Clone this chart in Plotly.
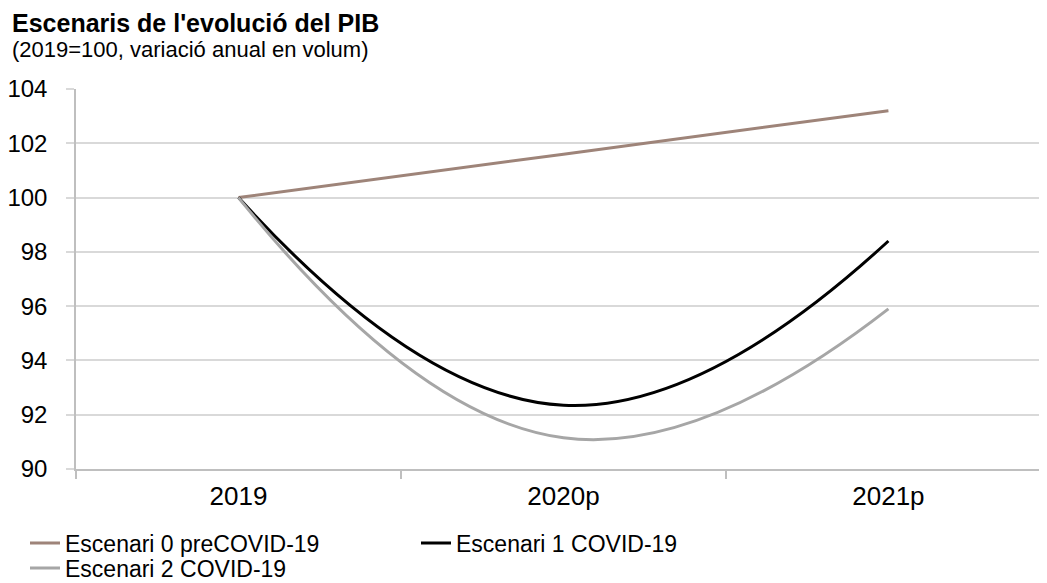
import plotly.graph_objects as go

categories = ["2019", "2020p", "2021p"]
escenari0 = [100, 101.6, 103.2]
escenari1 = [100, 92.35, 98.4]
escenari2 = [100, 91.15, 95.9]
names = ["Escenari 0 preCOVID-19", "Escenari 1 COVID-19", "Escenari 2 COVID-19"]
colors = ["#9E8479", "#000000", "#A6A6A6"]
yticks = [90, 92, 94, 96, 98, 100, 102, 104]

FONT = "Liberation Sans, Arial, sans-serif"

fig = go.Figure()
series = [escenari0, escenari1, escenari2]
legends = ["legend", "legend2", "legend3"]
for vals, nm, col, lg in zip(series, names, colors, legends):
    fig.add_trace(go.Scatter(
        x=categories, y=vals, name=nm, mode="lines",
        line=dict(color=col, width=3, shape="spline", smoothing=1.3),
        legend=lg, hoverinfo="x+y+name",
    ))

# page body has an 8px margin, so the figure is 8px smaller on each side
W, H = 1039, 575
L, T, B = 68, 81, 114
legfont = dict(family=FONT, size=23, color="#000000")

def leg(x, y):
    return dict(x=x, y=y, xref="container", yref="container",
                xanchor="left", yanchor="middle", font=legfont,
                bgcolor="rgba(0,0,0,0)", itemwidth=30,
                orientation="v")

fig.update_layout(
    width=W, height=H,
    margin=dict(l=L, r=0, t=T, b=B, pad=0, autoexpand=False),
    paper_bgcolor="white", plot_bgcolor="white",
    font=dict(family=FONT, color="#000000"),
    showlegend=True,
    legend=leg(17 / W, 1 - 535 / H),
    legend2=leg(408 / W, 1 - 535 / H),
    legend3=leg(17 / W, 1 - 560 / H),
    xaxis=dict(
        type="category", range=[-0.5, 2.488],
        showgrid=False, showline=True, linecolor="#BFBFBF", linewidth=1.5,
        ticks="outside", tickson="boundaries", ticklen=8, tickcolor="#BFBFBF",
        tickwidth=1.5,
        tickfont=dict(family=FONT, size=26, color="#000000"),
        ticklabelstandoff=3,
        zeroline=False, fixedrange=True,
    ),
    yaxis=dict(
        range=[90, 104], tickvals=yticks, ticktext=[str(v) for v in yticks],
        showgrid=True, gridcolor="#D9D9D9", gridwidth=1.5,
        showline=True, linecolor="#BFBFBF", linewidth=1.5,
        ticks="outside", ticklen=8, tickcolor="#D9D9D9", tickwidth=1.5,
        tickfont=dict(family=FONT, size=24, color="#000000"),
        ticklabelstandoff=14,
        zeroline=False, fixedrange=True,
    ),
    annotations=[
        dict(text="<b>Escenaris de l'evolució del PIB</b>", xref="paper", yref="paper",
             x=(2 - L) / (W - L), y=1 + (T - 15) / (H - T - B),
             xanchor="left", yanchor="middle", showarrow=False,
             font=dict(family=FONT, size=25, color="#000000")),
        dict(text="(2019=100, variació anual en volum)", xref="paper", yref="paper",
             x=(2 - L) / (W - L), y=1 + (T - 41) / (H - T - B),
             xanchor="left", yanchor="middle", showarrow=False,
             font=dict(family=FONT, size=22, color="#000000")),
    ],
)

fig.write_html("out.html")
